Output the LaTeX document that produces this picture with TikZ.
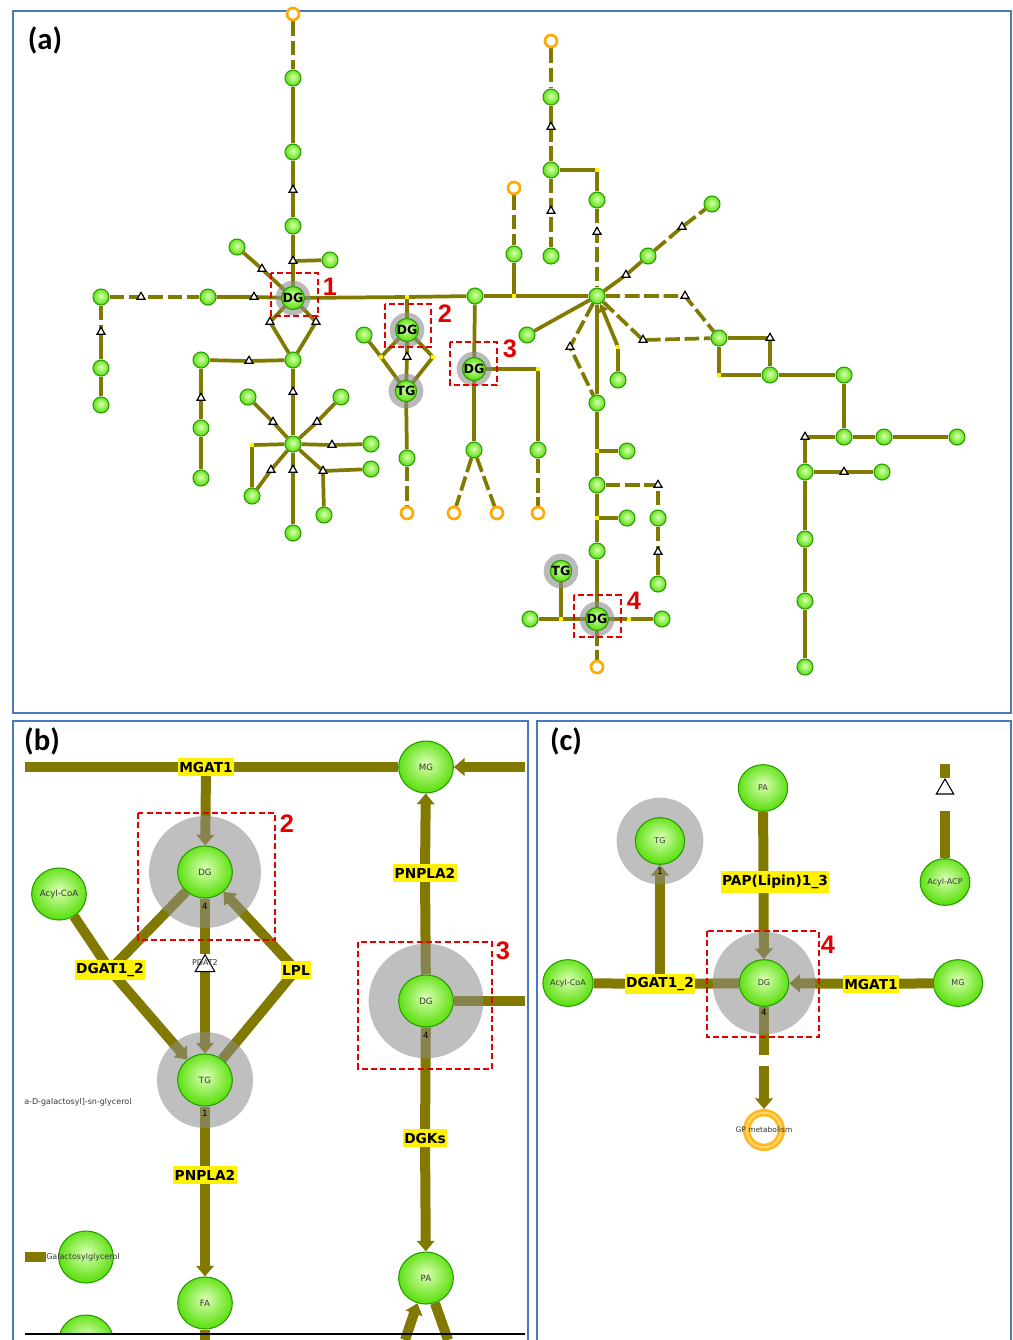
\documentclass[tikz,border=0pt]{standalone}
\usepackage{fontspec}
\setmainfont{DejaVu Sans}
\newfontfamily\dvs{DejaVu Sans}
\newfontfamily\carl{Carlito}
\newfontfamily\libs{Liberation Sans}
\usetikzlibrary{shapes.geometric,arrows.meta}
\pgfdeclarelayer{bg}
\pgfsetlayers{bg,main}
\definecolor{barc}{RGB}{130,122,0}
\definecolor{glight}{RGB}{220,255,180}
\definecolor{gmid}{RGB}{95,225,20}
\definecolor{gdark}{RGB}{40,155,0}
\definecolor{halogray}{RGB}{140,140,140}
\definecolor{orangec}{RGB}{255,170,0}
\definecolor{redc}{RGB}{228,0,0}
\definecolor{framec}{RGB}{74,120,190}
\definecolor{txtc}{RGB}{55,55,55}
\pgfdeclareradialshading{gball}{\pgfpoint{0bp}{4bp}}{color(0bp)=(glight); color(25bp)=(gmid); color(50bp)=(gmid)}
\begin{document}
\begin{tikzpicture}[x=0.75pt,y=-0.75pt,
  gn/.style={circle, minimum size=12pt, inner sep=0pt, draw=gdark, line width=0.8pt, shading=gball},
  dgn/.style={gn, font=\dvs\bfseries\fontsize{9.5}{10}\selectfont, text=black},
  hal/.style={circle, minimum size=26pt, inner sep=0pt, fill=halogray, fill opacity=0.6},
  trin/.style={regular polygon, regular polygon sides=3, minimum size=7pt, inner sep=0pt, draw=black, line width=0.9pt, fill=white},
  ymk/.style={rectangle, minimum size=2.5pt, inner sep=0pt, fill=yellow},
  orn/.style={circle, minimum size=9pt, inner sep=0pt, draw=orangec, line width=2pt, fill=white},
  ln/.style={draw=barc, line width=2.8pt},
  dl/.style={ln, dash pattern=on 11pt off 3.5pt},
  redbox/.style={draw=redc, line width=1.5pt, dash pattern=on 4.5pt off 2.5pt},
  rnum/.style={text=redc, font=\libs\bfseries\fontsize{19}{21}\selectfont, inner sep=0pt},
  plab/.style={font=\carl\bfseries\fontsize{23}{25}\selectfont, inner sep=0pt},
  pframe/.style={draw=framec, line width=1.5pt},
  gb/.style={ellipse, minimum width=41pt, minimum height=39pt, inner sep=0pt, draw=gdark, line width=0.8pt, shading=gball, font=\dvs\fontsize{6.5}{7}\selectfont, text=txtc},
  gc/.style={gb, minimum width=37pt, minimum height=35pt, font=\dvs\fontsize{6}{7}\selectfont},
  lbl/.style={fill=yellow, inner xsep=1pt, inner ysep=2.8pt, font=\dvs\bfseries\fontsize{10.3}{11}\selectfont, text=black},
  bar/.style={draw=barc, line width=7.5pt},
  barr/.style={bar, -{Triangle[width=13pt,length=8pt]}},
  bhal/.style={circle, inner sep=0pt, fill=halogray, fill opacity=0.55},
  smallt/.style={font=\dvs\fontsize{6.5}{7}\selectfont, inner sep=0pt, text=black},
  txt/.style={font=\dvs\fontsize{6}{7}\selectfont, inner sep=0pt, text=txtc},
  ptri/.style={regular polygon, regular polygon sides=3, minimum size=17pt, inner sep=0pt, draw=black, line width=0.8pt, fill=white}
]
\useasboundingbox (0,0) rectangle (1013,1340);
\begin{pgfonlayer}{bg}
\fill[white] (0,0) rectangle (1013,1340);
\end{pgfonlayer}

% ---------- frames ----------
\draw[pframe] (13,11) rectangle (1011,713);
\draw[pframe] (13,1340) -- (13,721) -- (528,721) -- (528,1340);
\draw[pframe] (537,1340) -- (537,721) -- (1011,721) -- (1011,1340);

\node[plab] (la) at (45,40) {(a)};
\node[plab] (lb) at (42,741) {(b)};
\node[plab] (lc) at (566,741) {(c)};

% ---------- panel (a) nodes ----------
\node[orn] (o1) at (293,14) {};
\node[gn] (g1) at (293,78) {};
\node[gn] (g2) at (293,152) {};
\node[trin] (t1) at (293,190) {};
\node[gn] (g3) at (293,226) {};
\node[trin] (t2) at (293,261) {};
\node[gn] (g4) at (330,260) {};
\node[gn] (g5) at (237,247) {};
\node[trin] (t3) at (262,269) {};
\node[hal] (h1) at (293,298) {};
\node[dgn] (DG1) at (293,298) {DG};
\node[gn] (g6) at (208,297) {};
\node[trin] (t4) at (254,297) {};
\node[gn] (g7) at (101,297) {};
\node[trin] (t5) at (141,297) {};
\node[trin] (t6) at (101,332) {};
\node[gn] (g8) at (101,368) {};
\node[gn] (g9) at (101,405) {};
\node[trin] (t7) at (270,322) {};
\node[trin] (t8) at (316,322) {};
\node[gn] (g10) at (293,360) {};
\node[gn] (g11) at (201,360) {};
\node[trin] (t9) at (249,361) {};
\node[trin] (t10) at (201,398) {};
\node[gn] (g12) at (201,428) {};
\node[gn] (g13) at (201,478) {};
\node[trin] (t11) at (293,392) {};
\node[gn] (H1) at (293,444) {};
\node[gn] (g14) at (248,397) {};
\node[trin] (t12) at (273,422) {};
\node[gn] (g15) at (341,397) {};
\node[trin] (t13) at (317,422) {};
\node[trin] (t14) at (332,445) {};
\node[gn] (g16) at (371,444) {};
\node[ymk] (y1) at (252,445) {};
\node[gn] (g17) at (252,496) {};
\node[trin] (t15) at (271,470) {};
\node[trin] (t16) at (293,470) {};
\node[gn] (g18) at (293,533) {};
\node[trin] (t17) at (323,471) {};
\node[gn] (g19) at (324,515) {};
\node[gn] (g20) at (371,469) {};

\node[ymk] (y2) at (407,297) {};
\node[gn] (g21) at (475,296) {};
\node[ymk] (y3) at (514,296) {};
\node[gn] (H2) at (597,296) {};
\node[hal] (h2) at (407,330) {};
\node[dgn] (DG2) at (407,330) {DG};
\node[gn] (g22) at (364,335) {};
\node[ymk] (y4) at (381,357) {};
\node[ymk] (y5) at (433,357) {};
\node[trin] (t18) at (407,357) {};
\node[hal] (h3) at (406,391) {};
\node[dgn] (TG2) at (406,391) {TG};
\node[gn] (g23) at (407,458) {};
\node[orn] (o2) at (407,513) {};
\node[hal] (h4) at (474,369) {};
\node[dgn] (DG3) at (474,369) {DG};
\node[ymk] (y7) at (538,369) {};
\node[gn] (g24) at (538,450) {};
\node[orn] (o3) at (538,513) {};
\node[gn] (g25) at (474,450) {};
\node[orn] (o4) at (454,513) {};
\node[orn] (o5) at (497,513) {};
\node[orn] (o6) at (514,188) {};
\node[gn] (g26) at (514,254) {};
\node[orn] (o7) at (551,41) {};
\node[gn] (g27) at (551,97) {};
\node[trin] (t19) at (551,127) {};
\node[gn] (g28) at (551,170) {};
\node[trin] (t20) at (551,211) {};
\node[gn] (g29) at (551,256) {};
\node[ymk] (y8) at (597,170) {};
\node[gn] (g30) at (597,200) {};
\node[trin] (t21) at (597,232) {};
\node[trin] (t22) at (626,275) {};
\node[gn] (g31) at (648,256) {};
\node[trin] (t23) at (682,227) {};
\node[gn] (g32) at (712,204) {};
\node[trin] (t24) at (685,296) {};
\node[gn] (g33) at (719,338) {};
\node[trin] (t25) at (643,340) {};
\node[gn] (g34) at (527,335) {};
\node[trin] (t26) at (570,347) {};
\node[gn] (g35) at (597,403) {};
\node[gn] (g36) at (618,380) {};
\node[ymk] (y9) at (618,347) {};
\node[trin] (t27) at (770,338) {};
\node[gn] (g37) at (770,375) {};
\node[ymk] (y10) at (719,375) {};
\node[gn] (g38) at (844,375) {};
\node[gn] (g39) at (844,437) {};
\node[trin] (t28) at (805,437) {};
\node[gn] (g40) at (884,437) {};
\node[gn] (g41) at (957,437) {};
\node[gn] (g42) at (805,472) {};
\node[trin] (t29) at (844,472) {};
\node[gn] (g43) at (882,472) {};
\node[gn] (g44) at (805,539) {};
\node[gn] (g45) at (805,601) {};
\node[gn] (g46) at (805,667) {};
\node[ymk] (y11) at (597,451) {};
\node[gn] (g47) at (627,451) {};
\node[gn] (g48) at (597,485) {};
\node[trin] (t30) at (658,485) {};
\node[gn] (g49) at (658,518) {};
\node[trin] (t31) at (658,552) {};
\node[gn] (g50) at (658,584) {};
\node[ymk] (y12) at (597,518) {};
\node[gn] (g51) at (627,518) {};
\node[gn] (g52) at (597,551) {};
\node[hal] (h5) at (561,571) {};
\node[dgn] (TG4) at (561,571) {TG};
\node[ymk] (y13) at (561,619) {};
\node[gn] (g53) at (530,619) {};
\node[hal] (h6) at (597,619) {};
\node[dgn] (DG4) at (597,619) {DG};
\node[ymk] (y14) at (629,619) {};
\node[gn] (g54) at (662,619) {};
\node[orn] (o8) at (597,667) {};

\draw[redbox] (271,273) rectangle (318,316);
\draw[redbox] (385,304) rectangle (431,347);
\draw[redbox] (450,342) rectangle (497,385);
\draw[redbox] (574,595) rectangle (621,637);
\node[rnum] (n1) at (330,287) {1};
\node[rnum] (n2) at (445,314) {2};
\node[rnum] (n3) at (510,349) {3};
\node[rnum] (n4) at (634,601) {4};

\begin{pgfonlayer}{bg}
\draw[dl] (o1) -- (g1);
\draw[ln] (g1) -- (g2);
\draw[ln] (g2) -- (t1.center) -- (g3);
\draw[ln] (g3) -- (t2.center) -- (DG1);
\draw[ln] (t2.center) -- (g4);
\draw[ln] (g5) -- (t3.center) -- (DG1);
\draw[ln] (g6) -- (t4.center) -- (DG1);
\draw[dl] (g7) -- (t5.center) -- (g6);
\draw[dl] (g7) -- (t6.center);
\draw[ln] (t6.center) -- (g8);
\draw[ln] (g8) -- (g9);
\draw[ln] (DG1) -- (t7.center) -- (g10);
\draw[ln] (DG1) -- (t8.center) -- (g10);
\draw[ln] (g11) -- (t9.center) -- (g10);
\draw[ln] (g11) -- (t10.center) -- (g12);
\draw[ln] (g12) -- (g13);
\draw[ln] (g10) -- (t11.center) -- (H1);
\draw[ln] (H1) -- (t12.center) -- (g14);
\draw[ln] (H1) -- (t13.center) -- (g15);
\draw[ln] (H1) -- (t14.center) -- (g16);
\draw[ln] (H1) -- (y1.center) -- (g17);
\draw[ln] (H1) -- (t15.center) -- (g17);
\draw[ln] (H1) -- (t16.center) -- (g18);
\draw[ln] (H1) -- (t17.center) -- (g19);
\draw[ln] (t17.center) -- (g20);
\draw[ln] (DG1) -- (y2.center) -- (g21);
\draw[ln] (g21) -- (y3.center) -- (H2);
\draw[ln] (y2.center) -- (DG2);
\draw[ln] (g22) -- (y4.center) -- (TG2);
\draw[ln] (DG2) -- (y4.center);
\draw[ln] (DG2) -- (y5.center) -- (TG2);
\draw[ln] (DG2) -- (t18.center) -- (TG2);
\draw[ln] (TG2) -- (g23);
\draw[dl] (g23) -- (o2);
\draw[ln] (g21) -- (DG3);
\draw[ln] (DG3) -- (y7.center) -- (g24);
\draw[dl] (g24) -- (o3);
\draw[ln] (DG3) -- (g25);
\draw[dl] (g25) -- (o4);
\draw[dl] (g25) -- (o5);
\draw[dl] (o6) -- (g26);
\draw[ln] (g26) -- (y3.center);
\draw[dl] (o7) -- (g27);
\draw[ln] (g27) -- (t19.center);
\draw[dl] (t19.center) -- (g28);
\draw[dl] (g28) -- (t20.center) -- (g29);
\draw[ln] (g28) -- (y8.center) -- (g30);
\draw[dl] (g30) -- (t21.center) -- (H2);
\draw[ln] (H2) -- (t22.center) -- (g31);
\draw[dl] (g31) -- (t23.center) -- (g32);
\draw[dl] (H2) -- (t24.center) -- (g33);
\draw[dl] (H2) -- (t25.center) -- (g33);
\draw[ln] (H2) -- (g34);
\draw[dl] (H2) -- (t26.center) -- (g35);
\draw[ln] (H2) -- (g35);
\draw[ln, -{Triangle[width=7pt,length=6pt]}] (g36) -- (y9.center) -- (H2);
\draw[ln] (g33) -- (t27.center) -- (g37);
\draw[ln] (g33) -- (y10.center) -- (g37);
\draw[ln] (g37) -- (g38);
\draw[ln] (g38) -- (g39);
\draw[ln] (g39) -- (t28.center) -- (g42);
\draw[ln] (g39) -- (g40);
\draw[ln] (g40) -- (g41);
\draw[ln] (g42) -- (t29.center) -- (g43);
\draw[ln] (g42) -- (g44);
\draw[ln] (g44) -- (g45);
\draw[ln] (g45) -- (g46);
\draw[ln] (g35) -- (y11.center) -- (g48);
\draw[ln] (y11.center) -- (g47);
\draw[dl] (g48) -- (t30.center) -- (g49);
\draw[dl] (g49) -- (t31.center);
\draw[ln] (t31.center) -- (g50);
\draw[ln] (g48) -- (y12.center) -- (g52);
\draw[ln] (y12.center) -- (g51);
\draw[ln] (g52) -- (DG4);
\draw[ln] (TG4) -- (y13.center);
\draw[ln] (g53) -- (y13.center) -- (DG4);
\draw[ln] (DG4) -- (y14.center) -- (g54);
\draw[dl] (DG4) -- (o8);
\end{pgfonlayer}

% ---------- panel (b) ----------
\coordinate (bl) at (25,767);
\coordinate (br) at (525,767);
\node[gb] (mgb) at (426,767) {MG};
\node[bhal, minimum size=84pt] (dgbh) at (205,872) {};
\node[gb] (dgb) at (205,872) {DG};
\node[smallt] (dgb4) at (205,906) {4};
\node[gb] (acylb) at (59,894) {Acyl-CoA};
\node[ptri] (pdat) at (205,966) {};
\node[txt] (pdatt) at (205,963) {PDAT2};
\node[bhal, minimum size=72pt] (tgbh) at (205,1080) {};
\node[gb] (tgb) at (205,1080) {TG};
\node[smallt] (tgb1) at (205,1113) {1};
\node[gb] (fab) at (205,1303) {FA};
\coordinate (fabot) at (205,1340);
\node[bhal, minimum size=86pt] (dg3bh) at (426,1001) {};
\node[gb] (dg3b) at (426,1001) {DG};
\node[smallt] (dg3b4) at (426,1035) {4};
\coordinate (dg3r) at (525,1001);
\node[gb] (pab) at (426,1278) {PA};
\coordinate (pbl) at (405,1340);
\coordinate (pbr) at (448,1340);
\node[gb] (galb) at (86,1257) {};
\node[txt, anchor=west] (galt) at (46,1257) {Galactosylglycerol};
\coordinate (galbar) at (25,1257);
\node[txt, anchor=west] (galact) at (24,1102) {a-D-galactosyl]-sn-glycerol};
\begin{scope}
\clip (20,1290) rectangle (527,1334);
\node[gb] (gbot) at (86,1341) {};
\end{scope}
\draw[black, line width=0.9pt] (25,1334) -- (525,1334);

\node[lbl] (mgat1b) at (206,767) {MGAT1};
\node[lbl] (dgatb) at (110,970) {DGAT1\_2};
\node[lbl] (lplb) at (296,970) {LPL};
\node[lbl] (pnb1) at (205,1175) {PNPLA2};
\node[lbl] (pnb2) at (425,873) {PNPLA2};
\node[lbl] (dgks) at (425,1138) {DGKs};

\draw[redbox] (138,813) rectangle (275,940);
\draw[redbox] (358,942) rectangle (492,1069);
\node[rnum] (nb2) at (287,824) {2};
\node[rnum] (nb3) at (503,951) {3};

\begin{pgfonlayer}{bg}
\draw[bar] (bl) -- (mgat1b.center);
\draw[bar] (mgat1b.center) -- (mgb);
\draw[barr] (br) -- (mgb);
\draw[barr] (mgat1b.center) -- (dgb);
\draw[bar] (acylb) -- (dgatb.center);
\draw[bar] (dgb) -- (dgatb.center);
\draw[barr] (dgatb.center) -- (tgb);
\draw[bar] (dgb) -- (pdat);
\draw[barr] (pdat) -- (tgb);
\draw[bar] (tgb) -- (lplb.center);
\draw[barr] (lplb.center) -- (dgb);
\draw[bar] (tgb) -- (pnb1.center);
\draw[barr] (pnb1.center) -- (fab);
\draw[bar] (fab) -- (fabot);
\draw[bar] (dg3b) -- (pnb2.center);
\draw[barr] (pnb2.center) -- (mgb);
\draw[bar] (dg3b) -- (dg3r);
\draw[bar] (dg3b) -- (dgks.center);
\draw[barr] (dgks.center) -- (pab);
\draw[barr] (pbl) -- (pab);
\draw[bar] (pab) -- (pbr);
\draw[bar] (galbar) -- (galt.west);
\end{pgfonlayer}

% ---------- panel (c) ----------
\node[gc] (pac) at (763,788) {PA};
\node[bhal, minimum size=65pt] (tgch) at (660,841) {};
\node[gc] (tgc) at (660,841) {TG};
\node[smallt] (tgc1) at (660,871) {1};
\node[bhal, minimum size=77pt] (dgch) at (764,983) {};
\node[gc] (dgc) at (764,983) {DG};
\node[smallt] (dgc4) at (764,1012) {4};
\node[gc] (acylc) at (568,983) {Acyl-CoA};
\node[gc] (mgc) at (958,983) {MG};
\coordinate (dgcb) at (764,1055);
\coordinate (gpt) at (764,1066);
\node[circle, minimum size=26pt, inner sep=0pt, draw={rgb,255:red,255;green,185;blue,30}, line width=5.5pt] (gp) at (764,1130) {};
\node[circle, minimum size=26pt, inner sep=0pt, draw={rgb,255:red,255;green,215;blue,110}, line width=1.5pt] (gpin) at (764,1130) {};
\node[font=\dvs\fontsize{5.6}{6}\selectfont, inner sep=0pt, text=black!80] (gpt2) at (764,1130) {GP metabolism};
\node[gc] (acp) at (945,882) {Acyl-ACP};
\node[ptri, minimum size=15pt] (acpt) at (945,789) {};
\coordinate (acptop) at (945,764);
\coordinate (acpb) at (945,811);

\node[lbl] (papc) at (775,882) {PAP(Lipin)1\_3};
\node[lbl] (dgatc) at (660,984) {DGAT1\_2};
\node[lbl] (mgatc) at (871,984) {MGAT1};

\draw[redbox] (707,931) rectangle (819,1037);
\node[rnum] (nc4) at (828,945) {4};

\begin{pgfonlayer}{bg}
\draw[barr] (pac) -- (dgc);
\draw[bar] (acylc) -- (dgatc.center);
\draw[bar] (dgatc.center) -- (dgc);
\draw[barr] (dgatc.center) -- (tgc);
\draw[bar] (mgc) -- (mgatc.center);
\draw[barr] (mgatc.center) -- (dgc);
\draw[bar] (dgc) -- (dgcb);
\draw[barr] (gpt) -- (gp);
\draw[bar] (acptop) -- (acpt);
\draw[bar] (acpb) -- (acp);
\end{pgfonlayer}
\end{tikzpicture}
\end{document}
